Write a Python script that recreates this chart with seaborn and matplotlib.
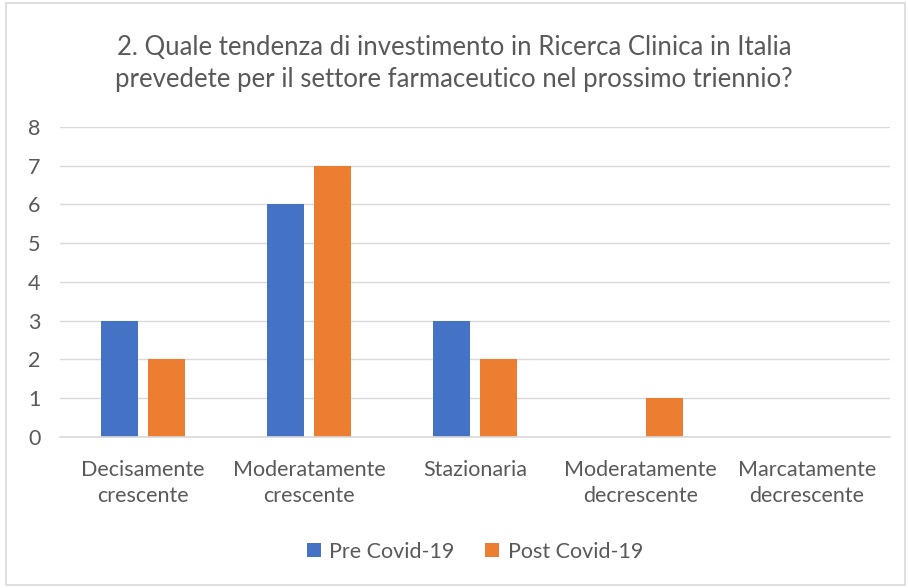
import pandas as pd
import matplotlib.pyplot as plt
import seaborn as sns
from matplotlib.patches import Rectangle

# data
categories = ['Decisamente\ncrescente', 'Moderatamente\ncrescente', 'Stazionaria',
              'Moderatamente\ndecrescente', 'Marcatamente\ndecrescente']
pre_covid = [3, 6, 3, 0, 0]
post_covid = [2, 7, 2, 1, 0]
series = ['Pre Covid-19', 'Post Covid-19']

data = pd.DataFrame({
    'categoria': categories * 2,
    'valore': pre_covid + post_covid,
    'serie': [series[0]] * 5 + [series[1]] * 5,
})

sns.set_theme(style='white')
plt.rcParams['font.family'] = ['Lato', 'DejaVu Sans']
text_col = '#595959'

fig = plt.figure(figsize=(9.08, 5.88), dpi=100)
ax = fig.add_axes([0.066, 0.257, 0.914, 0.527])

sns.barplot(x='categoria', y='valore', hue='serie', data=data, ax=ax,
            palette=['#4472C4', '#ED7D31'], width=0.566, gap=0.21,
            saturation=1, linewidth=0, legend=True)

ax.set_ylim(0, 8)
ax.set_yticks(range(0, 9))
ax.yaxis.grid(True, color='#D9D9D9', linewidth=1)
ax.set_axisbelow(True)
for s in ['top', 'right', 'left']:
    ax.spines[s].set_visible(False)
ax.spines['bottom'].set_color('#D9D9D9')
ax.spines['bottom'].set_linewidth(1.2)
ax.set_xlabel('')
ax.set_ylabel('')
ax.tick_params(axis='both', length=0, labelsize=15.5, colors=text_col)
ax.tick_params(axis='x', pad=17)
ax.tick_params(axis='y', pad=14)
for lab in ax.get_xticklabels():
    lab.set_linespacing(1.35)

fig.suptitle('2. Quale tendenza di investimento in Ricerca Clinica in Italia\n'
             'prevedete per il settore farmaceutico nel prossimo triennio?',
             y=0.941, fontsize=18.5, color=text_col, linespacing=1.35)

ax.legend(loc='center', bbox_to_anchor=(0.5, -0.37), ncol=2, frameon=False,
          fontsize=15.5, labelcolor=text_col, handlelength=0.65, handleheight=0.65,
          columnspacing=1.4, handletextpad=0.4)

# chart border
fig.patches.append(Rectangle((0.007, 0.005), 0.99, 0.99, transform=fig.transFigure,
                             fill=False, edgecolor='#D9D9D9', linewidth=1.2))

plt.savefig('out.png', dpi=100)
